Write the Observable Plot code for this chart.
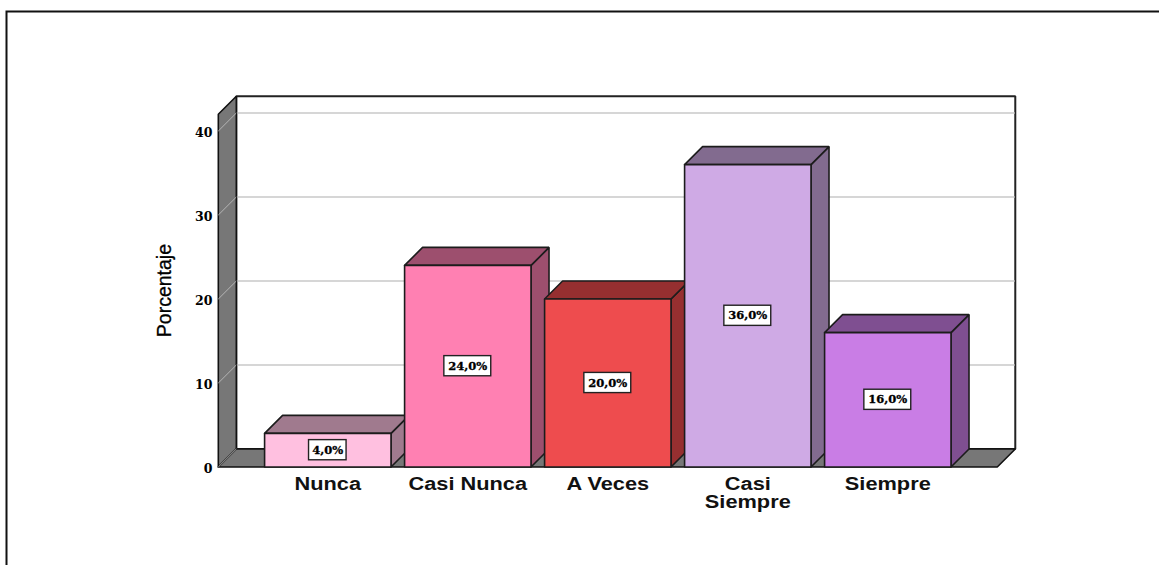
<!DOCTYPE html>
<html><head><meta charset="utf-8">
<script src="https://cdn.jsdelivr.net/npm/d3@7"></script>
<script src="https://cdn.jsdelivr.net/npm/@observablehq/plot@0.6"></script>
<style>html,body{margin:0;padding:0;background:#fff;overflow:hidden}svg{display:block}</style>
</head><body><div id="chart"></div>
<script>
const categories = ["Nunca","Casi Nunca","A Veces","Casi\nSiempre","Siempre"];
const percent = [4,24,20,36,16];
const barLabels = ["4,0%","24,0%","20,0%","36,0%","16,0%"];
const frontColors = ["#ffc0e0","#ff80b2","#ee4c4e","#cfaae5","#c97de5"];
const sideColors = ["#a07a8e","#9d4f6e","#962f30","#826b8f","#7f4f91"];
const yTicks = [0,10,20,30,40];

// depth of the 3-D box in data units
const dx = 0.1286, dy = 2.14;
const half = 0.4515;
const wallLeft = -0.782, wallRight = 4.782, wallTop = 42;
const edge = "#1c1c1c";

const poly = (pts, fill, stroke = edge, strokeWidth = 1.6) =>
  Plot.line([...pts, pts[0]].map(([x,y]) => ({x,y})), {x:"x", y:"y", fill, stroke, strokeWidth, strokeLinejoin:"miter"});

const barMarks = percent.flatMap((v,i) => {
  const a = i-half, b = i+half;
  return [
    poly([[b,0],[b+dx,dy],[b+dx,v+dy],[b,v]], sideColors[i]),
    poly([[a,v],[a+dx,v+dy],[b+dx,v+dy],[b,v]], sideColors[i]),
    poly([[a,0],[a,v],[b,v],[b,0]], frontColors[i])
  ];
});

// widen the category labels horizontally, as in the reference
const stretch = (index, scales, values, dims, ctx, next) => {
  const g = next(index, scales, values, dims, ctx);
  g.querySelectorAll("text").forEach(t => t.setAttribute("transform", (t.getAttribute("transform") || "") + " scale(1.21,1)"));
  return g;
};

const idx = categories.map((_,i) => i);
const serif = "'DejaVu Serif', serif";
const chart = Plot.plot({
  width:1159, height:565, marginLeft:218, marginTop:0, marginRight:0, marginBottom:0,
  style:{background:"#fff", overflow:"hidden"},
  x:{domain:[0,4], range:[327.3,887.3], axis:null},
  y:{domain:[0,40], range:[466.5,130.5], axis:null},
  marks:[
    Plot.frame({stroke:"#111", strokeWidth:2, insetLeft:-212, insetTop:11, insetRight:-10, insetBottom:-10}),
    // back wall
    poly([[wallLeft+dx,dy],[wallLeft+dx,wallTop+dy],[wallRight+dx,wallTop+dy],[wallRight+dx,dy]], "#fff", "#222", 2),
    // grid on the back wall
    Plot.ruleY(yTicks.slice(1), {y:d=>d+dy, x1:wallLeft+dx, x2:wallRight+dx, stroke:"#c9c9c9", strokeWidth:1.5}),
    // left wall and floor
    poly([[wallLeft,0],[wallLeft+dx,dy],[wallLeft+dx,wallTop+dy],[wallLeft,wallTop]], "#777777", "#111"),
    poly([[wallLeft,0],[wallLeft+dx,dy],[wallRight+dx,dy],[wallRight,0]], "#777777", "#111"),
    Plot.link(yTicks, {x1:wallLeft, y1:d=>d, x2:wallLeft+dx, y2:d=>d+dy, stroke:"#b5b5b5", strokeWidth:1}),
    ...barMarks,
    // value boxes
    Plot.rect(idx, {x1:i=>i-barLabels[i].length*0.0335, x2:i=>i+barLabels[i].length*0.0335,
      y1:i=>percent[i]/2-1.2, y2:i=>percent[i]/2+1.2, fill:"#fff", stroke:"#222", strokeWidth:1.4}),
    Plot.text(idx, {x:i=>i, y:i=>percent[i]/2, text:i=>barLabels[i], fontFamily:serif, fontWeight:"bold", fontSize:11.5, fill:"#000", stroke:"#000", strokeWidth:0.3}),
    // axis
    Plot.axisY(yTicks, {anchor:"left", tickSize:0, tickPadding:6, dy:2, label:null, fontFamily:serif, fontWeight:"bold", fontSize:12.5, fill:"#000", stroke:"#000", strokeWidth:0.3, tickFormat:d=>d}),
    Plot.text(["Porcentaje"], {frameAnchor:"left", textAnchor:"middle", y:21, dx:-54, rotate:-90, fontFamily:"'Liberation Sans Narrow','Liberation Sans',sans-serif", fontSize:19.5, fill:"#000", stroke:"#000", strokeWidth:0.3}),
    Plot.text(idx, {x:i=>i, y:0, dy:10.5, lineAnchor:"top", lineHeight:1, text:i=>categories[i], fontFamily:"'Liberation Sans',sans-serif", fontWeight:"bold", fontSize:18, fill:"#111", render:stretch})
  ]
});
document.getElementById("chart").append(chart);
</script></body></html>
